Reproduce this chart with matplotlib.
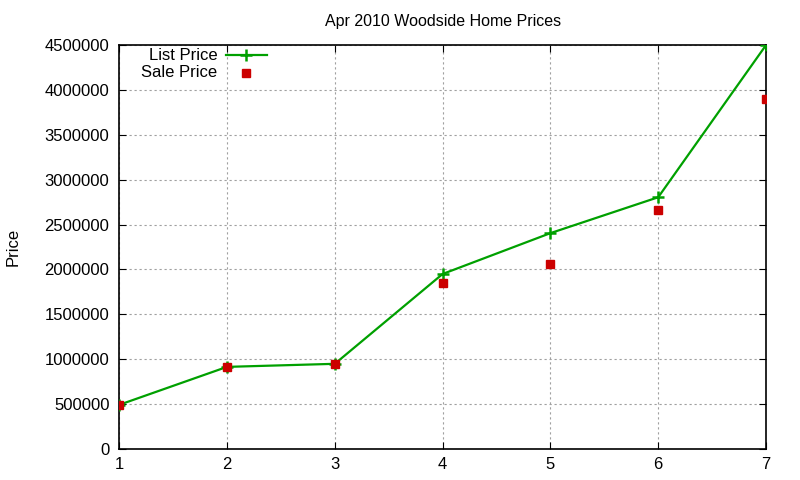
import matplotlib
matplotlib.use('Agg')
import matplotlib.pyplot as plt

plt.rcParams['font.family'] = ['Liberation Sans', 'DejaVu Sans']

# house index and prices
houses = [1, 2, 3, 4, 5, 6, 7]
list_price = [492000, 915000, 949000, 1950000, 2405000, 2805000, 4500000]
sale_price = [492000, 915000, 949000, 1850000, 2060000, 2660000, 3900000]

green = '#00a000'
red = '#cc0000'

fig = plt.figure(figsize=(8, 4.8), dpi=100)
ax = fig.add_axes([0.149, 0.0646, 0.8085, 0.8414])

ax.plot(houses, list_price, color=green, lw=1.6, marker='+', ms=9, mew=1.8, zorder=3)
ax.plot(houses, sale_price, ls='none', color=red, marker='s', ms=6, zorder=4)

ax.set_xlim(1, 7)
ax.set_ylim(0, 4500000)
ax.set_xticks(houses)
ax.set_yticks(range(0, 4500001, 500000))
ax.ticklabel_format(style='plain', axis='y')
ax.tick_params(direction='in', top=True, right=True, labelsize=12, length=5)
ax.tick_params(axis='y', pad=7)
ax.tick_params(axis='x', pad=6)
ax.grid(True, color='#a0a0a0', ls=(0, (2, 2.5)), lw=0.8)
for s in ax.spines.values():
    s.set_linewidth(1.2)

ax.set_title('Apr 2010 Woodside Home Prices', fontsize=11.5, pad=14)
ax.set_ylabel('Price', fontsize=12, labelpad=17)

# gnuplot style key: right aligned text, sample to the right
tr = ax.transAxes
ax.text(0.1515, 0.975, 'List Price', transform=tr, ha='right', va='center', fontsize=12)
ax.text(0.1515, 0.932, 'Sale Price', transform=tr, ha='right', va='center', fontsize=12)
ax.plot([0.165, 0.229], [0.975, 0.975], transform=tr, color=green, lw=1.6, clip_on=False)
ax.plot([0.196], [0.975], transform=tr, color=green, marker='+', ms=9, mew=1.8, clip_on=False)
ax.plot([0.196], [0.932], transform=tr, color=red, marker='s', ms=6, clip_on=False)

fig.savefig('out.png')
